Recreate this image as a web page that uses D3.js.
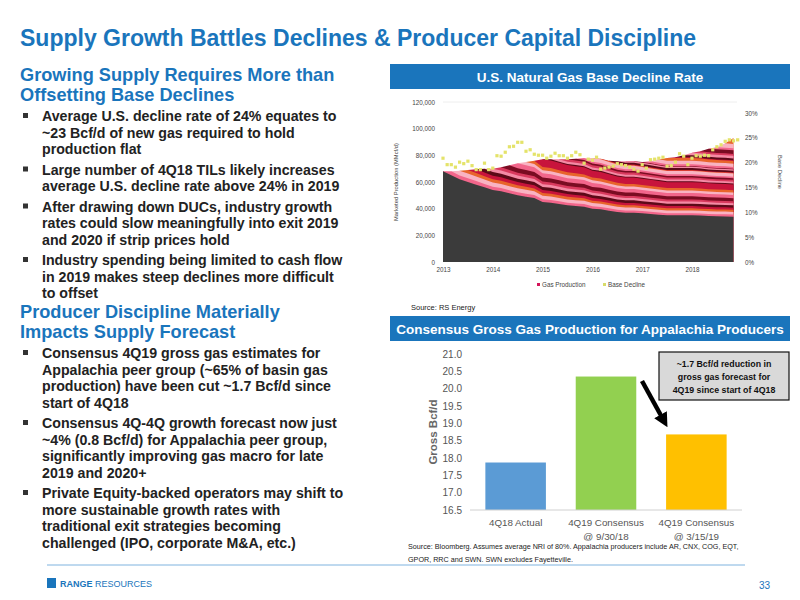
<!DOCTYPE html>
<html><head><meta charset="utf-8">
<script src="https://cdn.jsdelivr.net/npm/d3@7"></script>
<style>body{margin:0;background:#fff}svg{font-family:Arial,"Liberation Sans",sans-serif}</style>
</head><body><svg width="800" height="600"></svg>
<script>
// decline chart data (bi-monthly, MMcf/d) and monthly base decline %
const totalProd = [68000,68000,68500,69000,69500,70000,70000,71000,72500,74000,75000,76000,77000,77000,77000,77000,77500,78000,78000,77500,76000,75500,75500,75500,75000,75500,77000,78000,78500,80000,82000,83000,85000,86000,89000,93000];
const legacyProd = [68000,65000,62000,60000,58000,56000,54000,53000,51500,50000,49000,48000,45000,44500,43500,42500,42000,41500,40000,39500,38500,37500,37000,37000,36500,36000,35500,35000,35000,35000,35000,34800,34500,34300,34200,34000];
const baseDecline = [20.9,19.6,19.6,19.1,20.1,19.8,20.3,19.4,18.6,18.6,19.9,18.6,18.9,21.4,21.3,22.1,23.2,23.3,24.1,24.1,22.3,22.6,21.7,21.5,21.5,20.9,21.3,21.9,21.4,21.4,20.9,21.4,22.1,21.6,19.9,20.7,20.5,21.1,18.7,18.9,19.1,19.3,19.8,19.6,19.4,19.1,18.7,18.3,19.6,18.9,20.6,20.7,20.9,21.1,19.3,19.4,20.1,21.8,21.3,19.6,20.9,21.4,21.3,21.5,21.4,22.6,23.2,23.6,24.3,24.6,24.4,24.6];
const prodTicks = [0,20000,40000,60000,80000,100000,120000];
const pctTicks = [0,5,10,15,20,25,30];
const years = [2013,2014,2015,2016,2017,2018];
const stripeColors = ["#7a0c22","#f2668b","#f9b3c2","#e8652b","#c8143c","#5c0a18","#f48aa5","#d93a5e"];

// bar chart data
const barCats = [["4Q18 Actual"],["4Q19 Consensus","@ 9/30/18"],["4Q19 Consensus","@ 3/15/19"]];
const barVals = [17.87,20.35,18.68];
const barColors = ["#5b9bd5","#92d050","#ffc000"];
const barTicks = [16.5,17,17.5,18,18.5,19,19.5,20,20.5,21];

const svg = d3.select("svg");
const blue = "#1a75bc";

// title & left text
svg.append("text").attr("x",20).attr("y",46).attr("fill",blue).attr("font-size",23).attr("font-weight","bold")
  .text("Supply Growth Battles Declines & Producer Capital Discipline");

function heading(lines,y){
  lines.forEach((l,i)=>svg.append("text").attr("x",20).attr("y",y+i*19.5).attr("fill",blue)
    .attr("font-size",18.2).attr("font-weight","bold").text(l));
}
function bullets(items,y){
  items.forEach(it=>{
    svg.append("rect").attr("x",23).attr("y",y-8).attr("width",5).attr("height",5).attr("fill","#333");
    it.forEach((l,i)=>svg.append("text").attr("x",42).attr("y",y+i*16.5).attr("fill","#222")
      .attr("font-size",14.2).attr("font-weight","bold").text(l));
    y += it.length*16.5 + 4;
  });
}
heading(["Growing Supply Requires More than","Offsetting Base Declines"],81);
bullets([
  ["Average U.S. decline rate of 24% equates to","~23 Bcf/d of new gas required to hold","production flat"],
  ["Large number of 4Q18 TILs likely increases","average U.S. decline rate above 24% in 2019"],
  ["After drawing down DUCs, industry growth","rates could slow meaningfully into exit 2019","and 2020 if strip prices hold"],
  ["Industry spending being limited to cash flow","in 2019 makes steep declines more difficult","to offset"]],121);
heading(["Producer Discipline Materially","Impacts Supply Forecast"],318);
bullets([
  ["Consensus 4Q19 gross gas estimates for","Appalachia peer group (~65% of basin gas","production) have been cut ~1.7 Bcf/d since","start of 4Q18"],
  ["Consensus 4Q-4Q growth forecast now just","~4% (0.8 Bcf/d) for Appalachia peer group,","significantly improving gas macro for late","2019 and 2020+"],
  ["Private Equity-backed operators may shift to","more sustainable growth rates with","traditional exit strategies becoming","challenged (IPO, corporate M&A, etc.)"]],358);

// header bars
function banner(text,y){
  svg.append("rect").attr("x",390).attr("y",y).attr("width",400).attr("height",25).attr("fill",blue);
  svg.append("text").attr("x",590).attr("y",y+17.5).attr("text-anchor","middle").attr("fill","#fff")
    .attr("font-size",13.5).attr("font-weight","bold").text(text);
}
banner("U.S. Natural Gas Base Decline Rate",64);
banner("Consensus Gross Gas Production for Appalachia Producers",316);

// ---- decline chart ----
const x = d3.scaleLinear().domain([2013,2018]).range([443,692]);
const yP = d3.scaleLinear().domain([0,120000]).range([262,102]);
const yR = d3.scaleLinear().domain([0,30]).range([262,113]);
const tP = totalProd.map((d,i)=>2013+i/6);
const g1 = svg.append("g");
g1.append("line").attr("x1",443).attr("x2",737).attr("y1",yP(120000)).attr("y2",yP(120000)).attr("stroke","#eee");
// vintage stripes: each vintage layer decays in proportion to the legacy curve
const n = totalProd.length;
for(let j=n-1;j>=1;j--){
  const pts = [];
  for(let t=j-1;t<n;t++){
    const top = legacyProd[t] + (totalProd[j]-legacyProd[j])*legacyProd[t]/legacyProd[j];
    pts.push([tP[t], t<j ? totalProd[t] : top]);
  }
  const area = d3.area().x(d=>x(d[0])).y0(yP(0)).y1(d=>yP(d[1]));
  g1.append("path").attr("d",area(pts)).attr("fill",stripeColors[j%stripeColors.length]);
}
g1.append("path").datum(legacyProd).attr("fill","#3b3b3b")
  .attr("d",d3.area().x((d,i)=>x(tP[i])).y0(yP(0)).y1(d=>yP(d)));
g1.selectAll(".dot").data(baseDecline).join("rect")
  .attr("x",(d,i)=>x(2013+i/12)-1.6).attr("y",d=>yR(d)-1.6).attr("width",3.2).attr("height",3.2).attr("fill","#e4e36a");
const ax = (sel)=>{sel.select(".domain").remove();sel.selectAll("line").remove();sel.selectAll("text").attr("fill","#444").attr("font-size",6.3);};
g1.append("g").attr("transform","translate(443,0)").call(d3.axisLeft(yP).tickValues(prodTicks).tickFormat(d3.format(",")).tickSize(0).tickPadding(8)).call(ax);
g1.append("g").attr("transform","translate(737,0)").call(d3.axisRight(yR).tickValues(pctTicks).tickFormat(d=>d+"%").tickSize(0).tickPadding(8)).call(ax);
g1.append("g").attr("transform","translate(0,262)").call(d3.axisBottom(x).tickValues(years).tickFormat(d3.format("d")).tickSize(0).tickPadding(6)).call(ax);
g1.append("text").attr("transform","translate(398,182) rotate(-90)").attr("text-anchor","middle").attr("font-size",5.8).attr("fill","#444").text("Marketed Production (MMcf/d)");
g1.append("text").attr("transform","translate(778,172) rotate(90)").attr("text-anchor","middle").attr("font-size",5.8).attr("fill","#444").text("Base Decline");
g1.append("rect").attr("x",537).attr("y",283).attr("width",3).attr("height",3).attr("fill","#d4145a");
g1.append("text").attr("x",542).attr("y",286.5).attr("font-size",6.3).attr("fill","#444").text("Gas Production");
g1.append("rect").attr("x",603).attr("y",283).attr("width",3).attr("height",3).attr("fill","#d8dc6a");
g1.append("text").attr("x",608).attr("y",286.5).attr("font-size",6.3).attr("fill","#444").text("Base Decline");
svg.append("text").attr("x",411).attr("y",310).attr("font-size",7.5).attr("fill","#222").text("Source: RS Energy");

// ---- bar chart ----
const xb = d3.scaleBand().domain(d3.range(barVals.length)).range([470,742]).paddingInner(0.33).paddingOuter(0.17);
const yb = d3.scaleLinear().domain([16.5,21]).range([510,354]);
const g2 = svg.append("g");
g2.selectAll("rect").data(barVals).join("rect")
  .attr("x",(d,i)=>xb(i)).attr("width",xb.bandwidth()).attr("y",d=>yb(d)).attr("height",d=>yb(16.5)-yb(d))
  .attr("fill",(d,i)=>barColors[i]);
g2.append("g").attr("transform","translate(470,0)").call(d3.axisLeft(yb).tickValues(barTicks).tickFormat(d3.format(".1f")).tickSize(0).tickPadding(8))
  .call(s=>{s.select(".domain").remove();s.selectAll("text").attr("fill","#555").attr("font-size",10);});
g2.append("line").attr("x1",470).attr("x2",742).attr("y1",510).attr("y2",510).attr("stroke","#d0d0d0");
barCats.forEach((c,i)=>c.forEach((l,k)=>g2.append("text").attr("x",xb(i)+xb.bandwidth()/2).attr("y",526+k*14)
  .attr("text-anchor","middle").attr("font-size",9.8).attr("fill","#555").text(l)));
g2.append("text").attr("transform","translate(437,432) rotate(-90)").attr("text-anchor","middle").attr("font-size",11.5).attr("font-weight","bold").attr("fill","#666").text("Gross Bcf/d");
// annotation
g2.append("rect").attr("x",659).attr("y",352).attr("width",130).attr("height",48).attr("fill","#d9d9d9").attr("stroke","#111").attr("stroke-width",1.2);
["~1.7 Bcf/d reduction in","gross gas forecast for","4Q19 since start of 4Q18"].forEach((l,i)=>
  g2.append("text").attr("x",724).attr("y",367+i*13).attr("text-anchor","middle").attr("font-size",8.8).attr("font-weight","bold").attr("fill","#111").text(l));
svg.append("defs").append("marker").attr("id","ah").attr("viewBox","0 0 10 10").attr("refX",5).attr("refY",5)
  .attr("markerWidth",3.2).attr("markerHeight",3.2).attr("orient","auto").append("path").attr("d","M0,0L10,5L0,10Z").attr("fill","#000");
g2.append("line").attr("x1",642).attr("y1",381).attr("x2",664).attr("y2",421).attr("stroke","#000").attr("stroke-width",4.5).attr("marker-end","url(#ah)");
svg.append("text").attr("x",408).attr("y",549).attr("font-size",7.2).attr("fill","#222").text("Source: Bloomberg. Assumes average NRI of 80%. Appalachia producers include AR, CNX, COG, EQT,");
svg.append("text").attr("x",408).attr("y",562).attr("font-size",7.2).attr("fill","#222").text("GPOR, RRC and SWN. SWN excludes Fayetteville.");

// footer
svg.append("line").attr("x1",47).attr("x2",745).attr("y1",565).attr("y2",565).attr("stroke","#7fb3df").attr("stroke-width",1);
svg.append("rect").attr("x",47).attr("y",578).attr("width",9).attr("height",10).attr("fill",blue);
svg.append("text").attr("x",60).attr("y",587).attr("font-size",9).attr("font-weight","bold").attr("fill",blue).text("RANGE")
  .append("tspan").attr("font-weight","normal").text(" RESOURCES");
svg.append("text").attr("x",770).attr("y",589).attr("text-anchor","end").attr("font-size",10).attr("fill",blue).text("33");
</script></body></html>
